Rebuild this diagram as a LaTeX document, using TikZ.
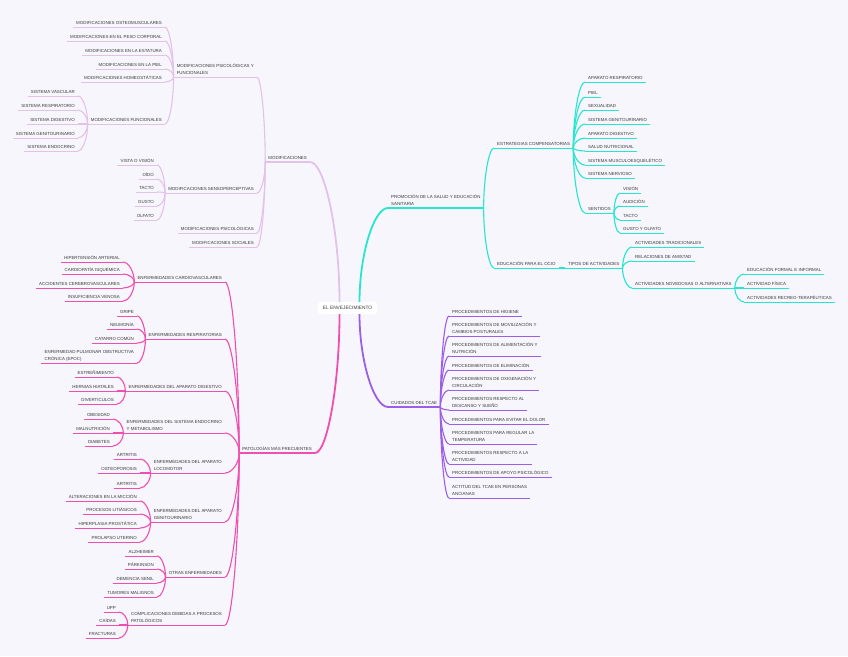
\documentclass[tikz,border=0pt]{standalone}
\usepackage{fontspec}
\usepackage{tikz}
\usetikzlibrary{calc}
\newfontfamily\mapfont{Liberation Sans}
\definecolor{lilac}{HTML}{E3C2EA}
\definecolor{rose}{HTML}{F04EB0}
\definecolor{aqua}{HTML}{24E6D2}
\definecolor{grape}{HTML}{9A5EE8}
\definecolor{paper}{HTML}{F7F6FC}
\definecolor{ink}{HTML}{3A3A3A}
% curved connector: leaves #2 vertically, reaches #3 horizontally
\newcommand{\lnk}[3]{\draw[#1] let \p1=(#2), \p2=(#3) in (\p1) .. controls (\x1,{0.5*\y1+0.5*\y2}) and ({0.5*\x1+0.5*\x2},\y2) .. (\p2);}

\begin{document}
\begin{tikzpicture}[
  x=1pt, y=-1pt,
  topic/.style={font=\mapfont\fontsize{4.4}{7}\selectfont, text=ink, align=left,
                inner xsep=3pt, inner ysep=2pt, text depth=0.5pt},
  ul/.style 2 args={append after command={(\tikzlastnode.south west)
                edge[draw=#1, line width=#2] (\tikzlastnode.south east)}},
  lft/.style={anchor=south east},
  rgt/.style={anchor=south west},
  lil/.style={topic, ul={lilac}{1pt}},  lilM/.style={topic, ul={lilac}{1.6pt}},
  ros/.style={topic, ul={rose}{1pt}},   rosM/.style={topic, ul={rose}{1.6pt}},
  aq/.style={topic, ul={aqua}{1pt}},    aqM/.style={topic, ul={aqua}{1.6pt}},
  grp/.style={topic, ul={grape}{1pt}},  grpM/.style={topic, ul={grape}{1.6pt}},
  lilw/.style={draw=lilac, line width=1.8pt}, lill/.style={draw=lilac, line width=1.1pt},
  rosw/.style={draw=rose, line width=1.8pt},  rosl/.style={draw=rose, line width=1.1pt},
  aqw/.style={draw=aqua, line width=1.8pt},   aql/.style={draw=aqua, line width=1.1pt},
  grpw/.style={draw=grape, line width=1.8pt}, grpl/.style={draw=grape, line width=1.1pt},
  hub/.style={fill=white, rounded corners=3pt, text=ink, inner xsep=5pt,
              minimum height=12pt, font=\mapfont\fontsize{4.8}{6}\selectfont},
]
\fill[paper] (0,0) rectangle (848,656);
\useasboundingbox (0,0) rectangle (848,656);

% ---------------- centre
\node[hub] (ctr) at (347.5,308) {EL ENVEJECIMIENTO};
\coordinate (hubNL) at ($(ctr.north)+(-8,0)$);
\coordinate (hubNR) at ($(ctr.north)+(12,0)$);
\coordinate (hubSL) at ($(ctr.south)+(-8,0)$);
\coordinate (hubSR) at ($(ctr.south)+(12,0)$);

% ---------------- modificaciones
\node[lilM, lft] (mod) at (310,162) {MODIFICACIONES};
\node[lil, lft] (mpf) at (257,77) {MODIFICACIONES PSICOLÓGICAS Y\\FUNCIONALES};
\node[lil, lft] (msp) at (257,193) {MODIFICACIONES SENSOPERCEPTIVAS};
\node[lil, lft] (mps) at (257,233) {MODIFICACIONES PSICOLÓGICAS};
\node[lil, lft] (mso) at (257,247) {MODIFICACIONES SOCIALES};
\node[lil, lft] (mo1) at (165,27) {MODIFICACIONES OSTEOMUSCULARES};
\node[lil, lft] (mo2) at (165,41) {MODIFICACIONES EN EL PESO CORPORAL};
\node[lil, lft] (mo3) at (165,55) {MODIFICACIONES EN LA ESTATURA};
\node[lil, lft] (mo4) at (165,69) {MODIFICACIONES EN LA PIEL};
\node[lil, lft] (mo5) at (165,82) {MODIFICACIONES HOMEOSTÁTICAS};
\node[lil, lft] (mfu) at (165,124) {MODIFICACIONES FUNCIONALES};
\node[lil, lft] (sv1) at (78,96) {SISTEMA VASCULAR};
\node[lil, lft] (sv2) at (78,110) {SISTEMA RESPIRATORIO};
\node[lil, lft] (sv3) at (78,124) {SISTEMA DIGESTIVO};
\node[lil, lft] (sv4) at (78,138) {SISTEMA GENITOURINARIO};
\node[lil, lft] (sv5) at (78,151) {SISTEMA ENDOCRINO};
\node[lil, lft] (se1) at (157,165) {VISTA O VISIÓN};
\node[lil, lft] (se2) at (157,179) {OÍDO};
\node[lil, lft] (se3) at (157,192) {TACTO};
\node[lil, lft] (se4) at (157,206) {GUSTO};
\node[lil, lft] (se5) at (157,220) {OLFATO};
\lnk{lilw}{hubNL}{mod.south east}
\foreach \nd in {mpf,msp,mps,mso} {\lnk{lill}{mod.south west}{\nd.south east}}
\foreach \nd in {mo1,mo2,mo3,mo4,mo5,mfu} {\lnk{lill}{mpf.south west}{\nd.south east}}
\foreach \nd in {sv1,sv2,sv3,sv4,sv5} {\lnk{lill}{mfu.south west}{\nd.south east}}
\foreach \nd in {se1,se2,se3,se4,se5} {\lnk{lill}{msp.south west}{\nd.south east}}

% ---------------- patologias
\node[rosM, lft] (pat) at (315,453) {PATOLOGÍAS MÁS FRECUENTES};
\node[ros, lft] (pcv) at (225,282) {ENFERMEDADES CARDIOVASCULARES};
\node[ros, lft] (pre) at (225,339) {ENFERMEDADES RESPIRATORIAS};
\node[ros, lft] (pdi) at (225,391) {ENFERMEDADES DEL APARATO DIGESTIVO};
\node[ros, lft] (pen) at (225,433) {ENFERMEDADES DEL SISTEMA ENDOCRINO\\Y METABOLISMO};
\node[ros, lft] (plo) at (225,473) {ENFERMEDADES DEL APARATO\\LOCOMOTOR};
\node[ros, lft] (pge) at (225,522) {ENFERMEDADES DEL APARATO\\GENITOURINARIO};
\node[ros, lft] (pot) at (225,577) {OTRAS ENFERMEDADES};
\node[ros, lft] (pco) at (225,625) {COMPLICACIONES DEBIDAS A PROCESOS\\PATOLÓGICOS};
\node[ros, lft] (cv1) at (123,262) {HIPERTENSIÓN ARTERIAL};
\node[ros, lft] (cv2) at (123,274) {CARDIOPATÍA ISQUÉMICA};
\node[ros, lft] (cv3) at (123,288) {ACCIDENTES CEREBROVASCULARES};
\node[ros, lft] (cv4) at (123,301) {INSUFICIENCIA VENOSA};
\node[ros, lft] (re1) at (137,316) {GRIPE};
\node[ros, lft] (re2) at (137,329) {NEUMONÍA};
\node[ros, lft] (re3) at (137,343) {CATARRO COMÚN};
\node[ros, lft] (re4) at (137,363) {ENFERMEDAD PULMONAR OBSTRUCTIVA\\CRÓNICA (EPOC)};
\node[ros, lft] (di1) at (117,377) {ESTREÑIMIENTO};
\node[ros, lft] (di2) at (117,391) {HERNIAS HIATALES};
\node[ros, lft] (di3) at (117,404) {DIVERTICULOS};
\node[ros, lft] (en1) at (113,419) {OBESIDAD};
\node[ros, lft] (en2) at (113,433) {MALNUTRICIÓN};
\node[ros, lft] (en3) at (113,446) {DIABETES};
\node[ros, lft] (lo1) at (140,459) {ARTRITIS};
\node[ros, lft] (lo2) at (140,473) {OSTEOPOROSIS};
\node[ros, lft] (lo3) at (140,488) {ARTRITIS};
\node[ros, lft] (ge1) at (140,501) {ALTERACIONES EN LA MICCIÓN};
\node[ros, lft] (ge2) at (140,514) {PROCESOS LITIÁSICOS};
\node[ros, lft] (ge3) at (140,528) {HIPERPLASIA PROSTÁTICA};
\node[ros, lft] (ge4) at (140,542) {PROLAPSO UTERINO};
\node[ros, lft] (ot1) at (157,556) {ALZHEIMER};
\node[ros, lft] (ot2) at (157,569) {PÁRKINSON};
\node[ros, lft] (ot3) at (157,583) {DEMENCIA SENIL};
\node[ros, lft] (ot4) at (157,597) {TUMORES MALIGNOS};
\node[ros, lft] (co1) at (119,612) {UPP};
\node[ros, lft] (co2) at (119,625) {CAÍDAS};
\node[ros, lft] (co3) at (119,638) {FRACTURAS};
\lnk{rosw}{hubSL}{pat.south east}
\foreach \nd in {pcv,pre,pdi,pen,plo,pge,pot,pco} {\lnk{rosl}{pat.south west}{\nd.south east}}
\foreach \nd in {cv1,cv2,cv3,cv4} {\lnk{rosl}{pcv.south west}{\nd.south east}}
\foreach \nd in {re1,re2,re3,re4} {\lnk{rosl}{pre.south west}{\nd.south east}}
\foreach \nd in {di1,di2,di3} {\lnk{rosl}{pdi.south west}{\nd.south east}}
\foreach \nd in {en1,en2,en3} {\lnk{rosl}{pen.south west}{\nd.south east}}
\foreach \nd in {lo1,lo2,lo3} {\lnk{rosl}{plo.south west}{\nd.south east}}
\foreach \nd in {ge1,ge2,ge3,ge4} {\lnk{rosl}{pge.south west}{\nd.south east}}
\foreach \nd in {ot1,ot2,ot3,ot4} {\lnk{rosl}{pot.south west}{\nd.south east}}
\foreach \nd in {co1,co2,co3} {\lnk{rosl}{pco.south west}{\nd.south east}}

% ---------------- promocion de la salud
\node[aqM, rgt] (pro) at (388,208) {PROMOCIÓN DE LA SALUD Y EDUCACIÓN\\SANITARIA};
\node[aq, rgt] (est) at (494,148) {ESTRATEGIAS COMPENSATORIAS};
\node[aq, rgt] (eoc) at (494,268) {EDUCACIÓN PARA EL OCIO};
\node[aq, rgt] (tip) at (565,268) {TIPOS DE ACTIVIDADES};
\node[aq, rgt] (es1) at (585,82) {APARATO RESPIRATORIO};
\node[aq, rgt] (es2) at (585,97) {PIEL};
\node[aq, rgt] (es3) at (585,110) {SEXUALIDAD};
\node[aq, rgt] (es4) at (585,124) {SISTEMA GENITOURINARIO};
\node[aq, rgt] (es5) at (585,138) {APARATO DIGESTIVO};
\node[aq, rgt] (es6) at (585,151) {SALUD NUTRICIONAL};
\node[aq, rgt] (es7) at (585,165) {SISTEMA MUSCULOESQUELÉTICO};
\node[aq, rgt] (es8) at (585,178) {SISTEMA NERVIOSO};
\node[aq, rgt] (sen) at (585,213) {SENTIDOS};
\node[aq, rgt] (sn1) at (620,193) {VISIÓN};
\node[aq, rgt] (sn2) at (620,206) {AUDICIÓN};
\node[aq, rgt] (sn3) at (620,220) {TACTO};
\node[aq, rgt] (sn4) at (620,233) {GUSTO Y OLFATO};
\node[aq, rgt] (ac1) at (632,247) {ACTIVIDADES TRADICIONALES};
\node[aq, rgt] (ac2) at (632,261) {RELACIONES DE AMISTAD};
\node[aq, rgt] (ac3) at (632,288) {ACTIVIDADES NOVEDOSAS O ALTERNATIVAS};
\node[aq, rgt] (nv1) at (744,274) {EDUCACIÓN FORMAL E INFORMAL};
\node[aq, rgt] (nv2) at (744,288) {ACTIVIDAD FÍSICA};
\node[aq, rgt] (nv3) at (744,302) {ACTIVIDADES RECREO-TERAPÉUTICAS};
\lnk{aqw}{hubNR}{pro.south west}
\foreach \nd in {est,eoc} {\lnk{aql}{pro.south east}{\nd.south west}}
\draw[aql] (eoc.south east) -- (tip.south west);
\foreach \nd in {es1,es2,es3,es4,es5,es6,es7,es8,sen} {\lnk{aql}{est.south east}{\nd.south west}}
\foreach \nd in {sn1,sn2,sn3,sn4} {\lnk{aql}{sen.south east}{\nd.south west}}
\foreach \nd in {ac1,ac2,ac3} {\lnk{aql}{tip.south east}{\nd.south west}}
\foreach \nd in {nv1,nv2,nv3} {\lnk{aql}{ac3.south east}{\nd.south west}}

% ---------------- cuidados del tcae
\node[grpM, rgt] (cui) at (388,407) {CUIDADOS DEL TCAE};
\node[grp, rgt] (pr1) at (449,316) {PROCEDIMIENTOS DE HIGIENE};
\node[grp, rgt] (pr2) at (449,336) {PROCEDIMIENTOS DE MOVILIZACIÓN Y\\CAMBIOS POSTURALES};
\node[grp, rgt] (pr3) at (449,356) {PROCEDIMIENTOS DE ALIMENTACIÓN Y\\NUTRICIÓN};
\node[grp, rgt] (pr4) at (449,370) {PROCEDIMIENTOS DE ELIMINACIÓN};
\node[grp, rgt] (pr5) at (449,390) {PROCEDIMIENTOS DE OXIGENACIÓN Y\\CIRCULACIÓN};
\node[grp, rgt] (pr6) at (449,410) {PROCEDIMIENTOS RESPECTO AL\\DESCANSO Y SUEÑO};
\node[grp, rgt] (pr7) at (449,424) {PROCEDIMIENTOS PARA EVITAR EL DOLOR};
\node[grp, rgt] (pr8) at (449,444) {PROCEDIMIENTOS PARA REGULAR LA\\TEMPERATURA};
\node[grp, rgt] (pr9) at (449,464) {PROCEDIMIENTOS RESPECTO A LA\\ACTIVIDAD};
\node[grp, rgt] (pr10) at (449,477) {PROCEDIMIENTOS DE APOYO PSICOLÓGICO};
\node[grp, rgt] (pr11) at (449,498) {ACTITUD DEL TCAE EN PERSONAS\\ANCIANAS};
\lnk{grpw}{hubSR}{cui.south west}
\foreach \nd in {pr1,pr2,pr3,pr4,pr5,pr6,pr7,pr8,pr9,pr10,pr11} {\lnk{grpl}{cui.south east}{\nd.south west}}
\end{tikzpicture}
\end{document}
